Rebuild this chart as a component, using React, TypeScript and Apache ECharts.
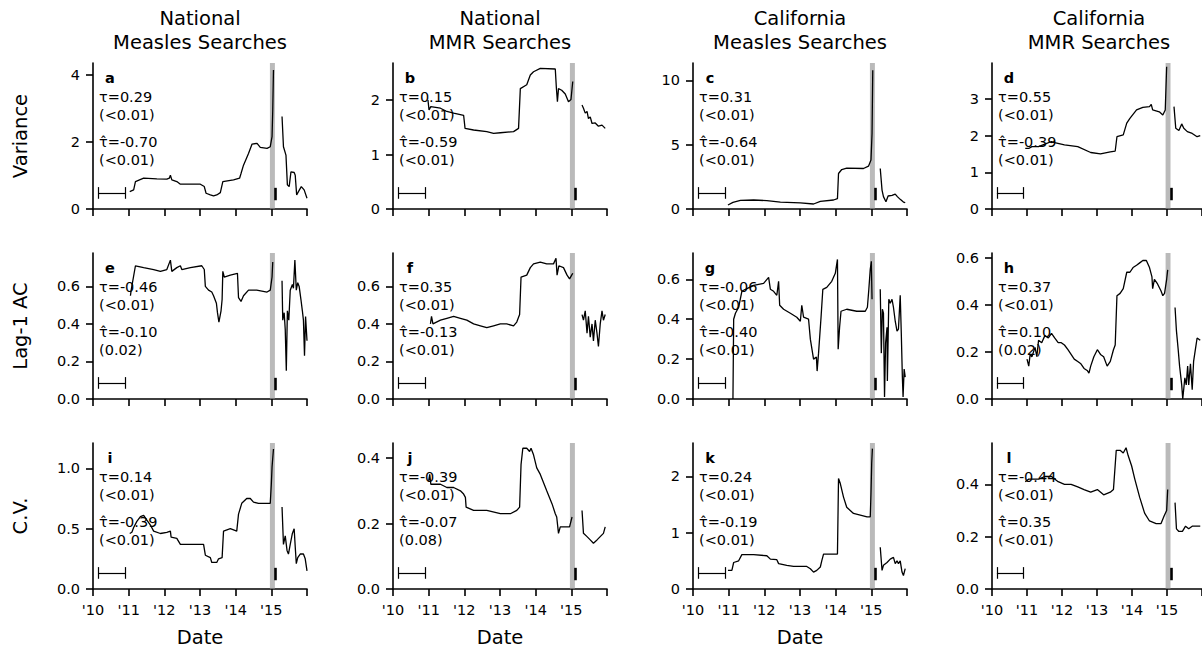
import React, { useEffect, useRef } from 'react';
import * as echarts from 'echarts';

const COL_TITLES = [
  ['National', 'Measles Searches'],
  ['National', 'MMR Searches'],
  ['California', 'Measles Searches'],
  ['California', 'MMR Searches'],
];
const ROW_LABELS = ['Variance', 'Lag-1 AC', 'C.V.'];
const PANEL_LETTERS = ['a', 'b', 'c', 'd', 'e', 'f', 'g', 'h', 'i', 'j', 'k', 'l'];
const TAU = ['0.29', '0.15', '0.31', '0.55', '-0.46', '0.35', '-0.06', '0.37', '0.14', '-0.39', '0.24', '-0.44'];
const TAU_P = ['<0.01', '<0.01', '<0.01', '<0.01', '<0.01', '<0.01', '<0.01', '<0.01', '<0.01', '<0.01', '<0.01', '<0.01'];
const TAU_HAT = ['-0.70', '-0.59', '-0.64', '-0.39', '-0.10', '-0.13', '-0.40', '0.10', '-0.39', '-0.07', '-0.19', '0.35'];
const TAU_HAT_P = ['<0.01', '<0.01', '<0.01', '<0.01', '0.02', '<0.01', '<0.01', '0.02', '<0.01', '0.08', '<0.01', '<0.01'];

const X_TICKS = [2010, 2011, 2012, 2013, 2014, 2015, 2016];
const X_LABEL_TICKS = [2010, 2011, 2012, 2013, 2014, 2015];
const Y_TICKS = [
  [0, 2, 4], [0, 1, 2], [0, 5, 10], [0, 1, 2, 3, 4],
  [0, 0.2, 0.4, 0.6], [0, 0.2, 0.4, 0.6], [0, 0.2, 0.4, 0.6], [0, 0.2, 0.4, 0.6],
  [0, 0.5, 1.0], [0, 0.2, 0.4], [0, 1, 2], [0, 0.2, 0.4],
];
const Y_MAX = [4.36, 2.68, 11.35, 3.98, 0.778, 0.778, 0.732, 0.622, 1.21, 0.446, 2.59, 0.558];
const Y_DEC = [0, 0, 0, 0, 1, 1, 1, 1, 1, 1, 0, 1];

// window bar (scale), outbreak band and post-outbreak marker (years)
const WINDOW_BAR = [2010.14, 2010.9];
const OUTBREAK_BAND = [2014.96, 2015.1];
const MARKER_X = 2015.12;

// ---- series data: [year, value] ----
const aPre = [[2011.03,0.52],[2011.14,0.57],[2011.19,0.82],[2011.42,0.92],[2011.79,0.90],[2012.07,0.89],[2012.14,0.92],[2012.17,1.01],[2012.21,0.87],[2012.35,0.82],[2012.45,0.74],[2013.01,0.74],[2013.12,0.67],[2013.17,0.47],[2013.29,0.42],[2013.38,0.39],[2013.47,0.42],[2013.57,0.49],[2013.64,0.82],[2013.94,0.87],[2014.11,0.92],[2014.15,1.06],[2014.22,1.31],[2014.36,1.66],[2014.46,1.94],[2014.60,1.96],[2014.69,1.84],[2014.88,1.81],[2014.97,1.86],[2015.02,2.16],[2015.04,2.96],[2015.06,4.15]];
const aPost = [[2015.30,2.76],[2015.34,1.86],[2015.41,1.61],[2015.45,0.72],[2015.50,0.67],[2015.55,1.11],[2015.64,1.09],[2015.67,1.01],[2015.71,0.42],[2015.76,0.52],[2015.84,0.67],[2015.92,0.57],[2016.00,0.32]];
const bPre = [[2010.98,2.0],[2011.01,1.82],[2011.06,1.88],[2011.33,1.85],[2011.51,1.79],[2011.70,1.76],[2011.98,1.72],[2012.02,1.48],[2012.26,1.45],[2012.63,1.42],[2012.82,1.39],[2013.01,1.40],[2013.38,1.42],[2013.52,1.48],[2013.57,2.21],[2013.75,2.28],[2013.85,2.46],[2013.94,2.52],[2014.13,2.58],[2014.55,2.57],[2014.58,2.23],[2014.61,1.97],[2014.64,2.21],[2014.73,2.18],[2014.83,2.11],[2014.92,1.97],[2014.99,2.01],[2015.04,2.34]];
const bPost = [[2015.30,1.91],[2015.34,1.85],[2015.39,1.76],[2015.44,1.79],[2015.48,1.66],[2015.53,1.69],[2015.58,1.57],[2015.67,1.58],[2015.76,1.52],[2015.86,1.54],[2015.95,1.48]];
const cPre = [[2010.98,0.31],[2011.12,0.52],[2011.33,0.67],[2011.70,0.70],[2012.07,0.65],[2012.45,0.54],[2013.01,0.47],[2013.38,0.39],[2013.57,0.59],[2013.94,0.70],[2014.05,0.80],[2014.08,2.76],[2014.17,3.07],[2014.31,3.18],[2014.78,3.15],[2014.92,3.33],[2014.99,3.80],[2015.02,5.87],[2015.04,10.78]];
const cPost = [[2015.25,3.15],[2015.30,1.47],[2015.34,0.96],[2015.41,0.57],[2015.47,1.01],[2015.58,1.06],[2015.67,1.16],[2015.73,0.96],[2015.81,0.75],[2015.90,0.54],[2015.95,0.49]];
const dPre = [[2010.95,1.65],[2011.05,1.65],[2011.14,1.70],[2011.33,1.70],[2011.51,1.77],[2011.70,1.84],[2011.79,1.81],[2012.07,1.75],[2012.45,1.70],[2012.82,1.54],[2013.10,1.50],[2013.38,1.56],[2013.52,1.58],[2013.57,1.97],[2013.75,2.02],[2013.85,2.34],[2013.94,2.47],[2014.13,2.70],[2014.31,2.77],[2014.50,2.79],[2014.55,2.85],[2014.59,2.70],[2014.78,2.65],[2014.88,2.56],[2014.95,2.70],[2014.99,3.88]];
const dPost = [[2015.20,2.79],[2015.25,2.20],[2015.34,2.14],[2015.42,2.32],[2015.48,2.20],[2015.58,2.11],[2015.72,2.06],[2015.86,1.97],[2015.95,2.00]];
const ePre = [[2011.05,0.55],[2011.07,0.58],[2011.19,0.71],[2011.42,0.70],[2011.70,0.69],[2011.89,0.68],[2012.07,0.69],[2012.17,0.74],[2012.21,0.68],[2012.35,0.70],[2012.45,0.71],[2012.49,0.69],[2012.73,0.70],[2013.05,0.71],[2013.12,0.69],[2013.15,0.60],[2013.24,0.58],[2013.33,0.57],[2013.38,0.55],[2013.46,0.51],[2013.49,0.46],[2013.53,0.41],[2013.59,0.47],[2013.62,0.53],[2013.64,0.68],[2013.68,0.65],[2013.85,0.66],[2014.05,0.67],[2014.08,0.54],[2014.15,0.52],[2014.22,0.55],[2014.36,0.58],[2014.59,0.58],[2014.88,0.57],[2014.97,0.58],[2015.02,0.65],[2015.04,0.73]];
const ePost = [[2015.30,0.63],[2015.32,0.42],[2015.36,0.46],[2015.39,0.37],[2015.42,0.15],[2015.45,0.47],[2015.49,0.42],[2015.53,0.58],[2015.59,0.61],[2015.62,0.59],[2015.66,0.74],[2015.70,0.58],[2015.74,0.62],[2015.78,0.60],[2015.83,0.53],[2015.87,0.47],[2015.90,0.42],[2015.93,0.23],[2015.96,0.44],[2016.00,0.31]];
const fPre = [[2011.05,0.40],[2011.08,0.44],[2011.12,0.40],[2011.33,0.42],[2011.51,0.43],[2011.70,0.44],[2011.89,0.43],[2012.07,0.42],[2012.26,0.40],[2012.45,0.39],[2012.63,0.38],[2012.82,0.39],[2013.01,0.40],[2013.19,0.40],[2013.38,0.39],[2013.47,0.41],[2013.55,0.45],[2013.59,0.65],[2013.75,0.66],[2013.85,0.70],[2013.94,0.72],[2014.13,0.73],[2014.31,0.72],[2014.50,0.72],[2014.57,0.75],[2014.60,0.66],[2014.65,0.71],[2014.78,0.70],[2014.88,0.66],[2014.95,0.64],[2015.01,0.66],[2015.04,0.67]];
const fPost = [[2015.30,0.45],[2015.34,0.42],[2015.39,0.47],[2015.44,0.35],[2015.48,0.44],[2015.53,0.33],[2015.58,0.40],[2015.62,0.31],[2015.67,0.42],[2015.72,0.35],[2015.76,0.28],[2015.81,0.40],[2015.86,0.47],[2015.90,0.42],[2015.95,0.45]];
const gPre = [[2011.12,0.00],[2011.14,0.40],[2011.19,0.43],[2011.28,0.46],[2011.37,0.54],[2011.47,0.55],[2011.70,0.57],[2011.98,0.58],[2012.12,0.61],[2012.17,0.55],[2012.26,0.54],[2012.35,0.52],[2012.40,0.59],[2012.43,0.47],[2012.54,0.45],[2012.73,0.43],[2012.91,0.41],[2013.01,0.39],[2013.05,0.47],[2013.10,0.41],[2013.24,0.40],[2013.29,0.30],[2013.38,0.20],[2013.46,0.21],[2013.48,0.14],[2013.52,0.23],[2013.59,0.41],[2013.64,0.55],[2013.75,0.56],[2013.89,0.59],[2013.99,0.63],[2014.05,0.70],[2014.07,0.25],[2014.11,0.36],[2014.15,0.44],[2014.31,0.45],[2014.59,0.44],[2014.83,0.44],[2014.89,0.46],[2014.93,0.55],[2014.97,0.65],[2015.00,0.69],[2015.02,0.50]];
const gPost = [[2015.25,0.55],[2015.28,0.23],[2015.31,0.45],[2015.34,0.43],[2015.37,0.01],[2015.40,0.28],[2015.44,0.36],[2015.45,0.09],[2015.49,0.50],[2015.53,0.48],[2015.58,0.50],[2015.62,0.46],[2015.67,0.39],[2015.72,0.34],[2015.76,0.35],[2015.81,0.52],[2015.84,0.33],[2015.87,0.11],[2015.89,0.01],[2015.92,0.15],[2015.95,0.11]];
const hPre = [[2011.00,0.17],[2011.05,0.14],[2011.09,0.19],[2011.14,0.18],[2011.23,0.22],[2011.28,0.18],[2011.33,0.25],[2011.42,0.24],[2011.51,0.27],[2011.61,0.26],[2011.70,0.28],[2011.79,0.26],[2011.89,0.24],[2011.98,0.24],[2012.07,0.23],[2012.17,0.21],[2012.26,0.19],[2012.35,0.17],[2012.45,0.16],[2012.54,0.15],[2012.63,0.13],[2012.73,0.12],[2012.77,0.11],[2012.82,0.14],[2012.91,0.18],[2013.01,0.21],[2013.10,0.19],[2013.19,0.18],[2013.29,0.14],[2013.38,0.16],[2013.47,0.21],[2013.52,0.23],[2013.57,0.44],[2013.66,0.45],[2013.75,0.47],[2013.85,0.54],[2013.94,0.54],[2014.03,0.56],[2014.13,0.57],[2014.22,0.58],[2014.31,0.59],[2014.41,0.59],[2014.50,0.56],[2014.57,0.52],[2014.59,0.47],[2014.64,0.51],[2014.73,0.49],[2014.83,0.46],[2014.88,0.44],[2014.93,0.45],[2014.99,0.51],[2015.02,0.55]];
const hPost = [[2015.23,0.39],[2015.27,0.29],[2015.32,0.21],[2015.36,0.14],[2015.42,0.06],[2015.45,0.00],[2015.51,0.09],[2015.55,0.06],[2015.59,0.14],[2015.62,0.06],[2015.67,0.15],[2015.72,0.04],[2015.76,0.16],[2015.81,0.21],[2015.86,0.26],[2015.95,0.25]];
const iPre = [[2011.03,0.46],[2011.09,0.47],[2011.14,0.51],[2011.23,0.56],[2011.33,0.60],[2011.42,0.61],[2011.51,0.57],[2011.61,0.53],[2011.70,0.48],[2011.89,0.46],[2012.07,0.47],[2012.17,0.48],[2012.19,0.43],[2012.35,0.42],[2012.45,0.37],[2012.73,0.37],[2013.10,0.37],[2013.15,0.28],[2013.29,0.26],[2013.33,0.22],[2013.47,0.22],[2013.52,0.25],[2013.62,0.26],[2013.66,0.48],[2013.85,0.50],[2014.03,0.48],[2014.08,0.62],[2014.17,0.71],[2014.31,0.75],[2014.41,0.75],[2014.50,0.72],[2014.64,0.71],[2014.97,0.71],[2015.00,0.87],[2015.02,1.01],[2015.06,1.16]];
const iPost = [[2015.30,0.68],[2015.34,0.37],[2015.39,0.44],[2015.44,0.32],[2015.48,0.29],[2015.53,0.37],[2015.59,0.46],[2015.64,0.50],[2015.67,0.35],[2015.70,0.21],[2015.74,0.26],[2015.81,0.29],[2015.90,0.29],[2015.95,0.25],[2016.00,0.15]];
const jPre = [[2011.00,0.33],[2011.03,0.35],[2011.06,0.32],[2011.33,0.32],[2011.51,0.31],[2011.70,0.31],[2011.89,0.30],[2011.98,0.29],[2012.03,0.28],[2012.05,0.25],[2012.26,0.24],[2012.63,0.24],[2013.01,0.23],[2013.29,0.23],[2013.47,0.24],[2013.55,0.25],[2013.59,0.38],[2013.64,0.43],[2013.75,0.43],[2013.83,0.42],[2013.87,0.43],[2013.94,0.41],[2014.03,0.37],[2014.13,0.35],[2014.31,0.30],[2014.46,0.26],[2014.55,0.23],[2014.59,0.22],[2014.64,0.17],[2014.69,0.19],[2014.88,0.19],[2014.95,0.19],[2015.02,0.22]];
const jPost = [[2015.30,0.24],[2015.34,0.17],[2015.44,0.16],[2015.53,0.15],[2015.62,0.14],[2015.72,0.15],[2015.81,0.16],[2015.90,0.17],[2015.95,0.19]];
const kPre = [[2010.98,0.33],[2011.09,0.33],[2011.14,0.47],[2011.28,0.50],[2011.37,0.61],[2011.70,0.61],[2012.07,0.59],[2012.17,0.53],[2012.35,0.52],[2012.40,0.45],[2012.63,0.42],[2012.82,0.40],[2013.19,0.40],[2013.29,0.36],[2013.38,0.30],[2013.47,0.33],[2013.57,0.39],[2013.61,0.50],[2013.66,0.62],[2014.05,0.62],[2014.08,1.96],[2014.13,1.87],[2014.22,1.63],[2014.31,1.45],[2014.50,1.34],[2014.69,1.31],[2014.88,1.28],[2014.97,1.28],[2014.99,1.69],[2015.01,2.23],[2015.03,2.49]];
const kPost = [[2015.25,0.74],[2015.30,0.33],[2015.34,0.42],[2015.44,0.47],[2015.53,0.53],[2015.62,0.56],[2015.67,0.45],[2015.72,0.50],[2015.76,0.45],[2015.81,0.50],[2015.86,0.30],[2015.90,0.24],[2015.95,0.36]];
const lPre = [[2010.95,0.41],[2011.05,0.42],[2011.14,0.42],[2011.33,0.42],[2011.51,0.43],[2011.70,0.43],[2011.89,0.41],[2012.07,0.40],[2012.26,0.40],[2012.45,0.39],[2012.63,0.38],[2012.82,0.37],[2013.01,0.38],[2013.19,0.36],[2013.38,0.37],[2013.47,0.38],[2013.55,0.53],[2013.66,0.53],[2013.75,0.52],[2013.83,0.54],[2013.89,0.51],[2013.99,0.47],[2014.08,0.42],[2014.22,0.35],[2014.36,0.29],[2014.50,0.26],[2014.69,0.25],[2014.83,0.25],[2014.92,0.28],[2014.99,0.30],[2015.02,0.38]];
const lPost = [[2015.23,0.33],[2015.27,0.23],[2015.34,0.22],[2015.44,0.22],[2015.53,0.24],[2015.62,0.23],[2015.72,0.24],[2015.81,0.24],[2015.86,0.24],[2015.95,0.24]];

const PANEL_DATA = [
  [aPre, aPost], [bPre, bPost], [cPre, cPost], [dPre, dPost],
  [ePre, ePost], [fPre, fPost], [gPre, gPost], [hPre, hPost],
  [iPre, iPost], [jPre, jPost], [kPre, kPost], [lPre, lPost],
];

// ---- layout ----
const GRID_LEFT = [93, 393, 693, 992];
const GRID_TOP = [63, 253, 443];
const GRID_W = 214;
const GRID_H = 146;
const FONT = '"DejaVu Sans", "Liberation Sans", sans-serif';
const TEXT_OFFSETS = [15, 34, 52, 79, 97];

function buildOption() {
  const grid: any[] = [];
  const xAxis: any[] = [];
  const yAxis: any[] = [];
  const series: any[] = [];
  const graphic: any[] = [];

  for (let i = 0; i < 12; i++) {
    const r = Math.floor(i / 4);
    const c = i % 4;
    const left = GRID_LEFT[c];
    const top = GRID_TOP[r];
    grid.push({ left, top, width: GRID_W, height: GRID_H, containLabel: false });
    xAxis.push({
      type: 'value', gridIndex: i, min: 2010, max: 2016,
      splitLine: { show: false },
      axisLine: { show: true, onZero: false, lineStyle: { color: '#000', width: 1.6 } },
      axisTick: { show: true, length: 7, inside: false, customValues: X_TICKS, lineStyle: { color: '#000', width: 1.6 } },
      axisLabel: {
        show: r === 2, customValues: X_LABEL_TICKS, margin: 13,
        fontSize: 14.5, fontFamily: FONT, color: '#000',
        formatter: (v: number) => "'" + String(Math.round(v)).slice(2),
      },
    });
    const dec = Y_DEC[i];
    yAxis.push({
      type: 'value', gridIndex: i, min: 0, max: Y_MAX[i],
      splitLine: { show: false },
      axisLine: { show: true, onZero: false, lineStyle: { color: '#000', width: 1.6 } },
      axisTick: { show: true, length: 7, inside: false, customValues: Y_TICKS[i], lineStyle: { color: '#000', width: 1.6 } },
      axisLabel: {
        show: true, customValues: Y_TICKS[i], margin: 13,
        fontSize: 14.5, fontFamily: FONT, color: '#000',
        formatter: (v: number) => v.toFixed(dec),
      },
    });

    const ymax = Y_MAX[i];
    const barY = 0.11 * ymax;
    const capH = 0.04 * ymax;
    const thin = { color: '#000', width: 1.2, type: 'solid' };
    const [pre, post] = PANEL_DATA[i];
    series.push({
      type: 'line', xAxisIndex: i, yAxisIndex: i, data: pre,
      symbol: 'none', showSymbol: false, silent: true, z: 3,
      lineStyle: { color: '#000', width: 1.3 },
      markArea: {
        silent: true,
        itemStyle: { color: 'rgba(140,140,140,0.6)' },
        data: [[{ xAxis: OUTBREAK_BAND[0] }, { xAxis: OUTBREAK_BAND[1] }]],
      },
      markLine: {
        silent: true, symbol: ['none', 'none'], label: { show: false },
        lineStyle: thin,
        data: [
          [{ coord: [WINDOW_BAR[0], barY] }, { coord: [WINDOW_BAR[1], barY] }],
          [{ coord: [WINDOW_BAR[0], barY - capH] }, { coord: [WINDOW_BAR[0], barY + capH] }],
          [{ coord: [WINDOW_BAR[1], barY - capH] }, { coord: [WINDOW_BAR[1], barY + capH] }],
          [{ coord: [MARKER_X, 0.06 * ymax], lineStyle: { color: '#000', width: 2.6, type: 'solid' } },
           { coord: [MARKER_X, 0.145 * ymax] }],
        ],
      },
    });
    series.push({
      type: 'line', xAxisIndex: i, yAxisIndex: i, data: post,
      symbol: 'none', showSymbol: false, silent: true, z: 3,
      lineStyle: { color: '#000', width: 1.3 },
    });

    // annotations
    const txt = (s: string, x: number, y: number, bold = false) => ({
      type: 'text', x, y, silent: true, z: 10,
      style: {
        text: s, fill: '#000',
        font: (bold ? 'bold ' : '') + '14.5px ' + FONT,
        textAlign: bold ? 'center' : 'left', align: bold ? 'center' : 'left',
        textVerticalAlign: 'middle', verticalAlign: 'middle',
      },
    });
    graphic.push(txt(PANEL_LETTERS[i], left + 17, top + TEXT_OFFSETS[0], true));
    graphic.push(txt('\u03c4=' + TAU[i], left + 6, top + TEXT_OFFSETS[1]));
    graphic.push(txt('(' + TAU_P[i] + ')', left + 6, top + TEXT_OFFSETS[2]));
    graphic.push(txt('\u03c4\u0302=' + TAU_HAT[i], left + 6, top + TEXT_OFFSETS[3]));
    graphic.push(txt('(' + TAU_HAT_P[i] + ')', left + 6, top + TEXT_OFFSETS[4]));
  }

  const big = (s: string, x: number, y: number, rot = 0) => ({
    type: 'text', x, y, rotation: rot, silent: true,
    style: {
      text: s, fill: '#000', font: '19.5px ' + FONT,
      textAlign: 'center', align: 'center', textVerticalAlign: 'middle', verticalAlign: 'middle',
    },
  });
  for (let c = 0; c < 4; c++) {
    const cx = GRID_LEFT[c] + GRID_W / 2;
    graphic.push(big(COL_TITLES[c][0], cx, 18));
    graphic.push(big(COL_TITLES[c][1], cx, 42));
    if (c < 3) graphic.push(big('Date', cx, 637));
  }
  for (let r = 0; r < 3; r++) {
    graphic.push(big(ROW_LABELS[r], 20, GRID_TOP[r] + GRID_H / 2, Math.PI / 2));
  }

  return {
    animation: false,
    backgroundColor: '#fff',
    grid, xAxis, yAxis, series, graphic,
  };
}

export default function App() {
  const ref = useRef<HTMLDivElement>(null);
  useEffect(() => {
    if (!ref.current) return;
    const chart = echarts.init(ref.current, undefined, { renderer: 'svg' });
    chart.setOption(buildOption());
    return () => chart.dispose();
  }, []);
  return (
    <div
      ref={ref}
      style={{ position: 'absolute', left: 0, top: 0, width: 1202, height: 649, background: '#fff' }}
    />
  );
}
